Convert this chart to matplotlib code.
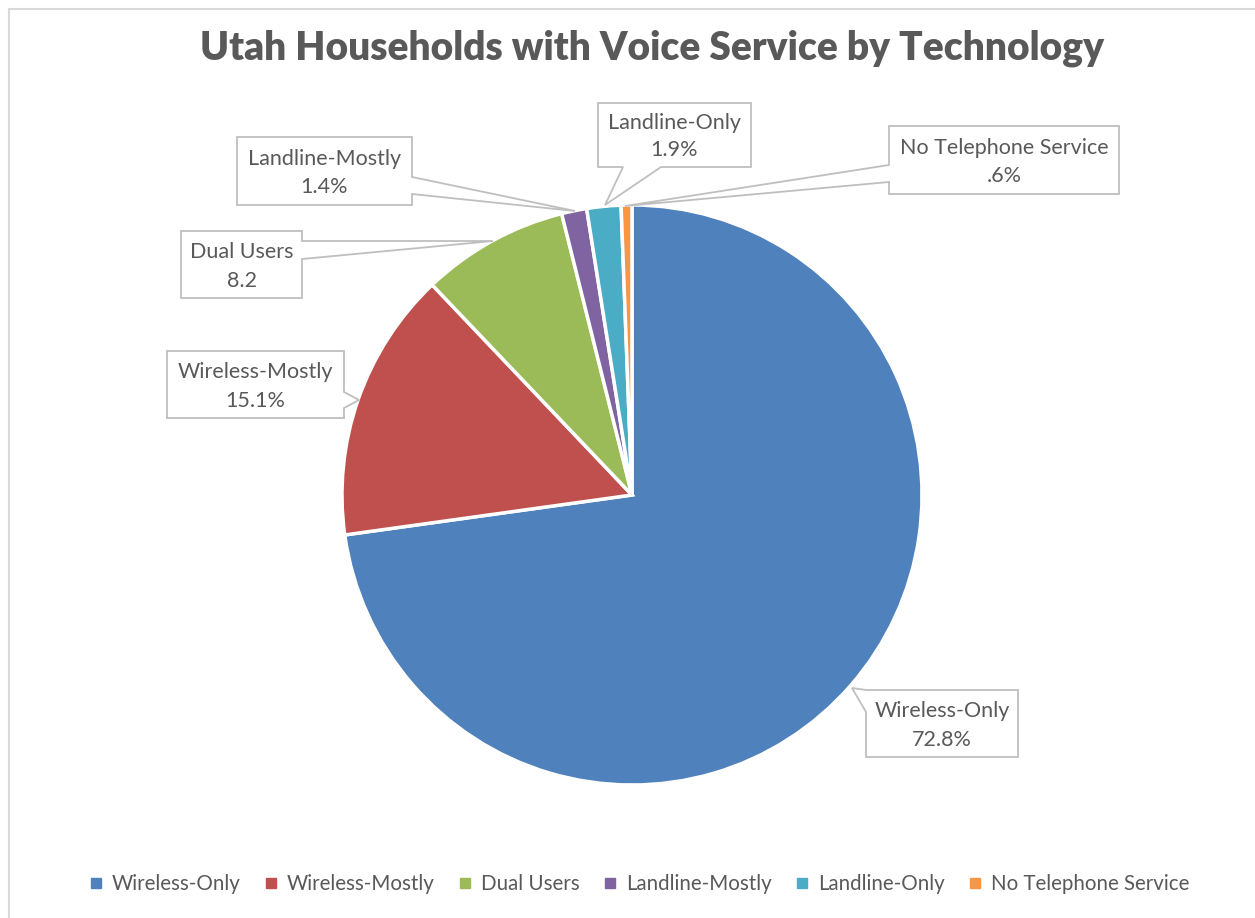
import matplotlib
matplotlib.use("Agg")
import matplotlib.pyplot as plt
from matplotlib.patches import Polygon, Rectangle
from matplotlib.lines import Line2D

# ---- data ----
categories = ["Wireless-Only", "Wireless-Mostly", "Dual Users", "Landline-Mostly",
              "Landline-Only", "No Telephone Service"]
values = [72.8, 15.1, 8.2, 1.4, 1.9, 0.6]
value_labels = ["72.8%", "15.1%", "8.2", "1.4%", "1.9%", ".6%"]
colors = ["#4F81BD", "#C0504D", "#9BBB59", "#8064A2", "#4BACC6", "#F79646"]
title = "Utah Households with Voice Service by Technology"

W, H = 1255, 918
FONT = "Lato"
TXT = "#595959"
EDGE = "#BFBFBF"

fig = plt.figure(figsize=(W / 100, H / 100), dpi=100)
ax = fig.add_axes([0, 0, 1, 1])

def P(px, py):
    return (px, H - py)

cx, cy = P(632, 495)
ax.pie(values, colors=colors, startangle=90, counterclock=False,
       center=(cx, cy), radius=290, frame=True,
       wedgeprops=dict(edgecolor="white", linewidth=2.5))
ax.set_xlim(0, W)
ax.set_ylim(0, H)
ax.set_aspect("equal")
ax.axis("off")

# chart border (left/top visible)
ax.add_patch(Rectangle(P(9, 1000), 1400, 991, fill=False, edgecolor="#D9D9D9",
                       linewidth=1.5, clip_on=False))

# callouts: box (x0,y0,x1,y1) in pixels, side, base1, base2, tip
callouts = {
    "Landline-Only": ((598, 103, 751, 167), "bottom", 623, 661, (605, 205)),
    "No Telephone Service": ((889, 126, 1119, 194), "left", 165, 182, (625, 206)),
    "Landline-Mostly": ((237, 137, 412, 205), "right", 177, 194, (575, 211)),
    "Dual Users": ((181, 231, 302, 298), "right", 241, 259, (493, 241)),
    "Wireless-Mostly": ((167, 351, 344, 418), "right", 392, 408, (359, 400)),
    "Wireless-Only": ((866, 690, 1018, 757), "left", 690, 712, (852, 688)),
}

for cat, vl in zip(categories, value_labels):
    (x0, y0, x1, y1), side, b1, b2, tip = callouts[cat]
    if side == "right":
        pts = [(x0, y0), (x1, y0), (x1, b1), tip, (x1, b2), (x1, y1), (x0, y1)]
    elif side == "left":
        pts = [(x0, y0), (x1, y0), (x1, y1), (x0, y1), (x0, b2), tip, (x0, b1)]
    else:  # bottom
        pts = [(x0, y0), (x1, y0), (x1, y1), (b2, y1), tip, (b1, y1), (x0, y1)]
    ax.add_patch(Polygon([P(*p) for p in pts], closed=True, facecolor="white",
                         edgecolor=EDGE, linewidth=1.3, zorder=5))
    h = y1 - y0
    xc = (x0 + x1) / 2
    ax.text(*P(xc, y0 + 0.32 * h), cat, ha="center", va="center",
            fontsize=15.5, color=TXT, family=FONT, zorder=6)
    ax.text(*P(xc, y0 + 0.74 * h), vl, ha="center", va="center",
            fontsize=15.5, color=TXT, family=FONT, zorder=6)

# title
ax.text(*P(652, 48), title, ha="center", va="center", fontsize=28,
        fontweight="heavy", color=TXT, family=FONT)

# legend
handles = [Line2D([], [], marker="s", linestyle="none", markersize=7,
                  markerfacecolor=c, markeredgecolor=c) for c in colors]
leg = fig.legend(handles, categories, loc="center", bbox_to_anchor=(639 / W, 1 - 884 / H),
                 ncol=6, frameon=False, handlelength=0.7, handletextpad=0.4,
                 columnspacing=1.15, prop=dict(family=FONT, size=14.8))
for t in leg.get_texts():
    t.set_color(TXT)

fig.savefig("out.png", dpi=100, facecolor="white")
